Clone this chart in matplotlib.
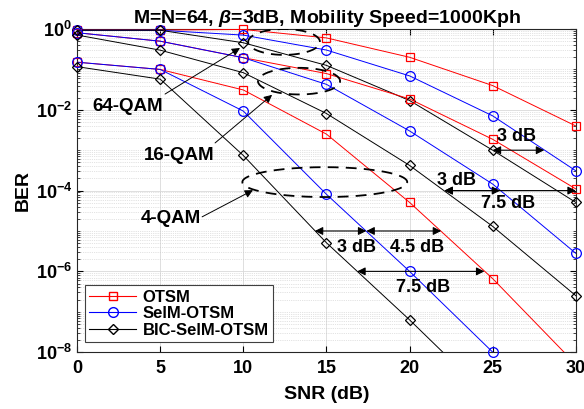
import numpy as np
import matplotlib
matplotlib.use('Agg')
import matplotlib.pyplot as plt
from matplotlib.lines import Line2D

plt.rcParams['font.family'] = ['Liberation Sans', 'DejaVu Sans']
plt.rcParams['font.weight'] = 'bold'
plt.rcParams['mathtext.fontset'] = 'custom'
plt.rcParams['mathtext.rm'] = 'Liberation Sans:bold'
plt.rcParams['mathtext.bf'] = 'Liberation Sans:bold'
plt.rcParams['mathtext.it'] = 'Liberation Sans:bold:italic'

# SNR axis (dB)
snr = [0, 5, 10, 15, 20, 25, 30]

# BER values (nan = nothing drawn)
otsm_64 = [0.944, 0.944, 0.977, 0.603, 0.200, 0.0398, 3.98e-3]
selm_64 = [0.933, 0.933, 0.708, 0.302, 0.0692, 7.08e-3, 3.09e-4]
bic_64 = [0.933, 0.933, 0.457, 0.126, 0.0170, 1.0e-3, 5.1e-5]

otsm_16 = [0.81, 0.50, 0.195, 0.079, 0.0186, 1.86e-3, 1.10e-4]
selm_16 = [0.81, 0.50, 0.195, 0.0427, 3.0e-3, 1.45e-4, 2.8e-6]
bic_16 = [0.71, 0.30, 0.083, 8.1e-3, 4.2e-4, 1.3e-5, 2.5e-7]

otsm_4 = [0.151, 0.100, 0.031, 2.5e-3, 5.1e-5, 6.6e-7, 5.0e-9]
selm_4 = [0.151, 0.100, 9.3e-3, 8.1e-5, 1.0e-6, 1.0e-8, np.nan]
bic_4 = [0.117, 0.0575, 7.4e-4, 5.1e-6, 6.3e-8, 6.3e-10, np.nan]

schemes = ['OTSM', 'SelM-OTSM', 'BIC-SelM-OTSM']
colors = ['#ff0000', '#0000ff', '#000000']
markers = ['s', 'o', 'D']
msizes = [6, 7, 5.5]

curves = [
    (otsm_64, 0), (selm_64, 1), (bic_64, 2),
    (otsm_16, 0), (selm_16, 1), (bic_16, 2),
    (otsm_4, 0), (selm_4, 1), (bic_4, 2),
]

ymin = 1e-8

fig = plt.figure(figsize=(5.84, 4.09), dpi=100)
ax = fig.add_axes([0.132, 0.139, 0.854, 0.790])

for vals, k in curves:
    v = np.array(vals, dtype=float)
    ax.plot(snr, v, color=colors[k], lw=0.7, zorder=3)
    vm = np.where(v >= ymin * 0.98, v, np.nan)
    ax.plot(snr, vm, ls='none', marker=markers[k], ms=msizes[k], mfc='none',
            mec=colors[k], mew=0.9, clip_on=False, zorder=4)

ax.set_yscale('log')
ax.set_xlim(0, 30)
ax.set_ylim(ymin, 1)
ax.set_xticks([0, 5, 10, 15, 20, 25, 30])
ax.set_yticks([1e0, 1e-2, 1e-4, 1e-6, 1e-8])
ax.set_yticklabels([r'$10^{0}$', r'$10^{-2}$', r'$10^{-4}$', r'$10^{-6}$', r'$10^{-8}$'])
ax.yaxis.set_minor_locator(matplotlib.ticker.LogLocator(base=10, subs=np.arange(1, 10), numticks=30))
ax.yaxis.set_minor_formatter(matplotlib.ticker.NullFormatter())
ax.tick_params(which='both', direction='in', top=True, right=True, labelsize=13)
ax.tick_params(axis='x', pad=6)
ax.tick_params(which='major', length=4, width=0.8)
ax.tick_params(which='minor', length=2, width=0.5)
ax.grid(True, which='major', color='#d9d9d9', lw=0.6, ls='-')
ax.grid(True, which='minor', axis='y', color='#c8c8c8', lw=0.5, ls=':')
for s in ax.spines.values():
    s.set_linewidth(0.8)
    s.set_color('#262626')

ax.set_xlabel('SNR (dB)', fontsize=14, fontweight='bold', labelpad=6)
ax.set_ylabel('BER', fontsize=14, fontweight='bold', labelpad=3)
ax.set_title(r'M=N=64, $\beta$=3dB, Mobility Speed=1000Kph', fontsize=14,
             fontweight='bold', pad=4)

# legend
handles = [Line2D([], [], color=colors[k], lw=0.8, marker=markers[k], ms=msizes[k],
                  mfc='none', mec=colors[k]) for k in range(3)]
leg = ax.legend(handles, schemes, loc='lower left', bbox_to_anchor=(0.016, 0.031),
                borderaxespad=0, fancybox=False, framealpha=1, edgecolor='#404040',
                prop={'weight': 'bold', 'size': 12}, handlelength=2.8,
                labelspacing=0.1, borderpad=0.25, handletextpad=0.4)
leg.get_frame().set_linewidth(0.8)

# dashed ellipses grouping the modulation orders (center x, center log10 y, half-width, half-height)
t = np.linspace(0, 2 * np.pi, 200)
for cx, cy, a, b in [(12.45, -0.32, 2.16, 0.32), (13.35, -1.29, 2.47, 0.33), (14.9, -3.79, 4.96, 0.37)]:
    ax.plot(cx + a * np.cos(t), 10 ** (cy + b * np.sin(t)), color='black', lw=1.3,
            ls=(0, (6, 4)), zorder=5)

# modulation labels with arrows
lbl_arrow = dict(arrowstyle='-|>', color='black', lw=0.7, mutation_scale=12,
                 shrinkA=0, shrinkB=0)
for txt, tx, ty, ax0, ay0, ax1, ay1 in [
        ('64-QAM', 3.07, -1.93, 5.29, -1.61, 9.8, -0.47),
        ('16-QAM', 6.13, -3.12, 8.3, -2.82, 11.73, -1.63),
        ('4-QAM', 5.65, -4.68, 7.52, -4.65, 10.58, -3.99)]:
    ax.text(tx, 10 ** ty, txt, fontsize=13.5, fontweight='bold', ha='center', va='center')
    ax.annotate('', xy=(ax1, 10 ** ay1), xytext=(ax0, 10 ** ay0), arrowprops=lbl_arrow)

# dB gap arrows
gap_arrow = dict(arrowstyle='<|-|>', color='black', lw=0.8, mutation_scale=12,
                 shrinkA=0, shrinkB=0)
for x0, x1, yv in [(25.0, 28.1, 1e-3), (22.1, 25.45, 1e-4), (22.1, 30.0, 1e-4),
                   (14.3, 17.4, 1e-5), (17.4, 21.9, 1e-5), (16.85, 24.5, 1e-6)]:
    ax.annotate('', xy=(x1, yv), xytext=(x0, yv), arrowprops=gap_arrow, zorder=6)

for txt, tx, ty in [('3 dB', 26.45, -2.67), ('3 dB', 22.85, -3.74), ('7.5 dB', 25.9, -4.31),
                    ('3 dB', 16.8, -5.40), ('4.5 dB', 20.45, -5.40), ('7.5 dB', 20.8, -6.39)]:
    ax.text(tx, 10 ** ty, txt, fontsize=13, fontweight='bold', ha='center', va='center',
            zorder=7)

fig.savefig('out.png', dpi=100)
